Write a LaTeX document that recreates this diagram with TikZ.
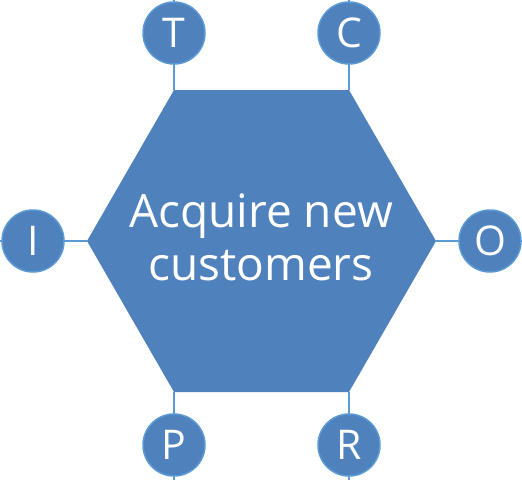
\documentclass[tikz,border=0pt]{standalone}
\usepackage{fontspec}
\setmainfont{Open Sans}
\definecolor{hexblue}{HTML}{4F81BD}
\definecolor{rimblue}{HTML}{5B9BD5}
\tikzset{
  letter/.style={circle, minimum size=62pt, inner sep=0pt, fill=hexblue, draw=rimblue,
    line width=1.5pt, text=white, font=\fontsize{41}{41}\selectfont},
  spoke/.style={draw=rimblue, line width=1.5pt}
}
\begin{document}
\begin{tikzpicture}[x=1pt,y=-1pt]
\useasboundingbox (0,0) rectangle (522,480);
% hexagon corners
\coordinate (v1) at (174,90);
\coordinate (v2) at (349,90);
\coordinate (v3) at (436,241);
\coordinate (v4) at (349,392);
\coordinate (v5) at (174,392);
\coordinate (v6) at (87,241);
% free ends at the border
\coordinate (eT) at (174,0);
\coordinate (eC) at (349,0);
\coordinate (eO) at (522,241);
\coordinate (eR) at (349,480);
\coordinate (eP) at (174,480);
\coordinate (eI) at (0,241);
\draw[spoke](v1) -- (eT);
\draw[spoke](v2) -- (eC);
\draw[spoke](v3) -- (eO);
\draw[spoke](v4) -- (eR);
\draw[spoke](v5) -- (eP);
\draw[spoke](v6) -- (eI);
\fill[hexblue] (v1) -- (v2) -- (v3) -- (v4) -- (v5) -- (v6) -- cycle;
\node[text=white, align=center, inner sep=0pt, font=\fontsize{46}{53}\selectfont] (goal) at (261,237) {Acquire new\\customers};
\node[letter] (lT) at (174,33) {T};
\node[letter] (lC) at (349,33) {C};
\node[letter] (lI) at (33,241) {I};
\node[letter] (lO) at (490,241) {O};
\node[letter] (lP) at (174,445) {P};
\node[letter] (lR) at (349,445) {R};

\end{tikzpicture}
\end{document}
